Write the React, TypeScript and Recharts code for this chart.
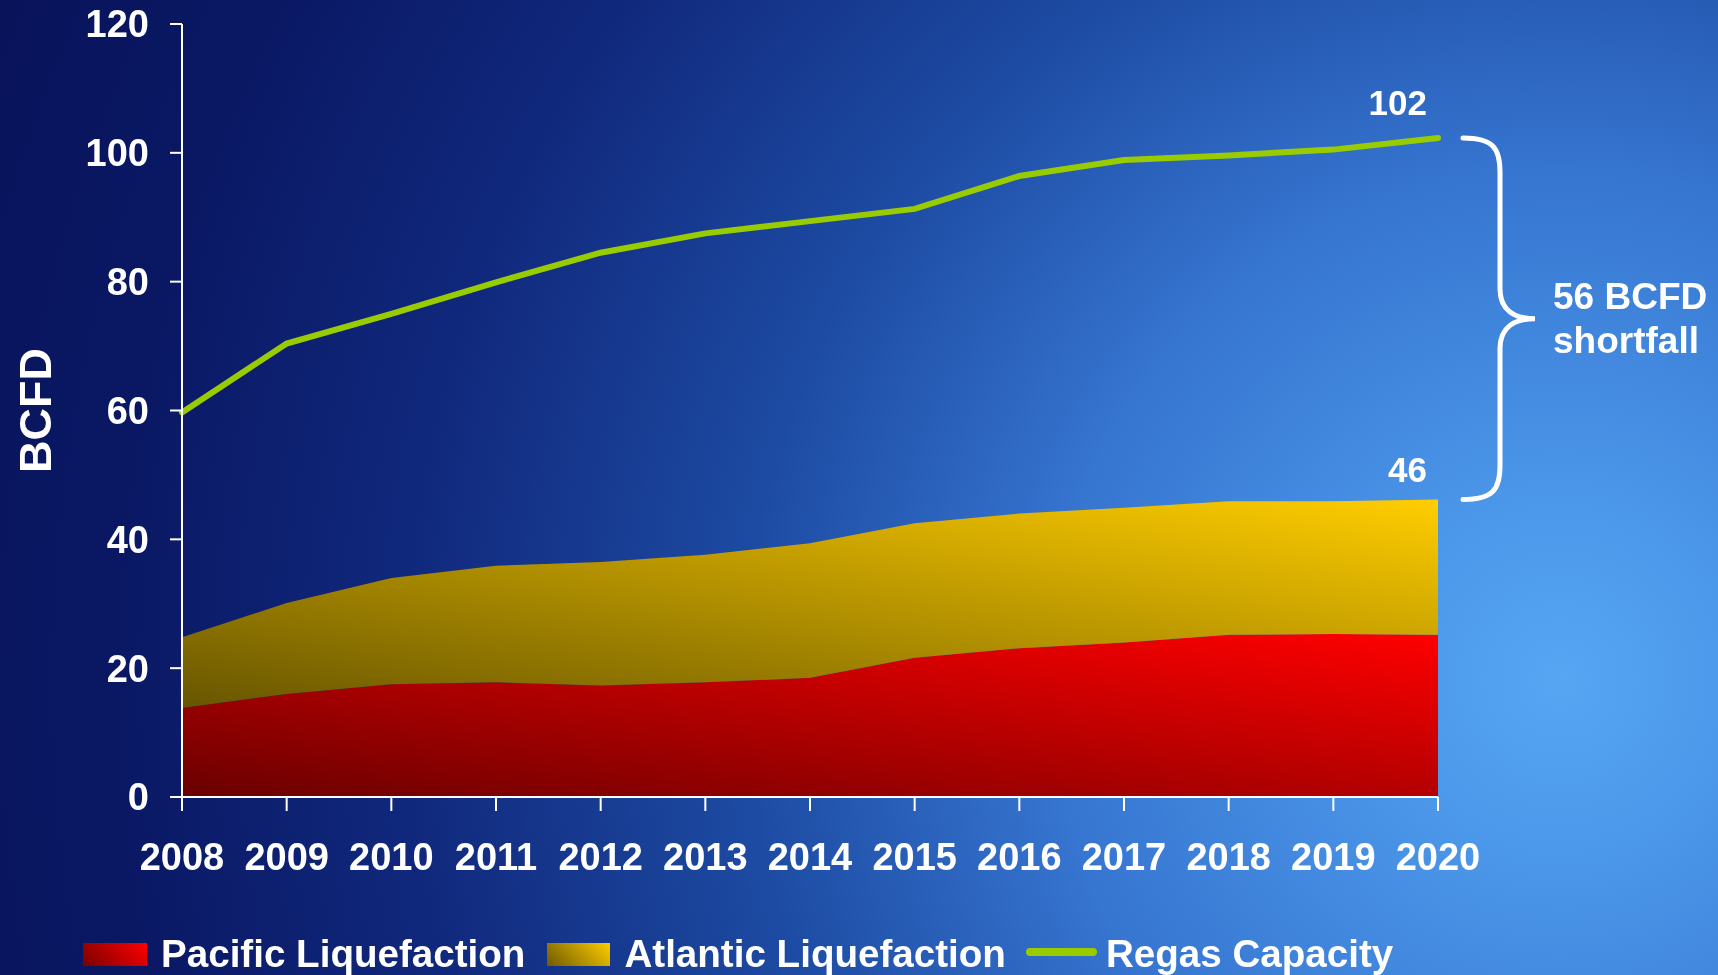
import React from 'react';
import { ComposedChart, Area, Line, XAxis, YAxis, ReferenceLine } from 'recharts';

const years = [2008, 2009, 2010, 2011, 2012, 2013, 2014, 2015, 2016, 2017, 2018, 2019, 2020];
const pacific = [13.8, 16.0, 17.5, 17.8, 17.3, 17.8, 18.5, 21.6, 23.1, 24.0, 25.2, 25.3, 25.2];
const atlantic = [11.0, 14.1, 16.5, 18.1, 19.2, 19.8, 20.9, 20.9, 20.9, 20.9, 20.7, 20.6, 21.0];
const regas = [59.7, 70.4, 75.0, 79.9, 84.5, 87.5, 89.4, 91.3, 96.4, 98.9, 99.6, 100.5, 102.3];
const yTicks = [0, 20, 40, 60, 80, 100, 120];
const seriesNames = ['Pacific Liquefaction', 'Atlantic Liquefaction', 'Regas Capacity'];
const shortfallLines = ['56 BCFD', 'shortfall'];
const yAxisTitle = 'BCFD';

const data = years.map((year, i) => ({ year, pacific: pacific[i], atlantic: atlantic[i], regas: regas[i] }));
const last = years.length - 1;
const lastTotal = pacific[last] + atlantic[last];

const FONT = '"Liberation Sans", Arial, Helvetica, sans-serif';

const regasLabel = (props: any) => {
  const { x, y, index } = props;
  if (index !== last) return null;
  return (
    <text x={x - 11} y={y - 23} textAnchor="end" fill="#fff" fontSize={35} fontWeight={700} fontFamily={FONT}>
      {Math.round(regas[last])}
    </text>
  );
};

const totalLabel = (props: any) => {
  const { x, y, index } = props;
  if (index !== last) return null;
  return (
    <text x={x - 11} y={y - 17} textAnchor="end" fill="#fff" fontSize={35} fontWeight={700} fontFamily={FONT}>
      {Math.round(lastTotal)}
    </text>
  );
};

const Brace = (props: any) => {
  const { x1, y1, x2, y2 } = props;
  const yt = Math.min(y1, y2);
  const yb = Math.max(y1, y2);
  const x0 = Math.max(x1, x2) + 25;
  const xv = x0 + 37;
  const xm = x0 + 72;
  const ym = (yt + yb) / 2;
  const d = [
    `M ${x0} ${yt}`,
    `C ${x0 + 30} ${yt} ${xv} ${yt + 10} ${xv} ${yt + 34}`,
    `L ${xv} ${ym - 30}`,
    `C ${xv} ${ym - 8} ${xv + 15} ${ym} ${xm} ${ym}`,
    `C ${xv + 15} ${ym} ${xv} ${ym + 8} ${xv} ${ym + 30}`,
    `L ${xv} ${yb - 34}`,
    `C ${xv} ${yb - 10} ${x0 + 30} ${yb} ${x0} ${yb}`,
  ].join(' ');
  return (
    <g>
      <path d={d} fill="none" stroke="#fff" strokeWidth={5} strokeLinecap="round" />
      <text x={xm + 18} y={ym - 10} fill="#fff" fontSize={37} fontWeight={700} fontFamily={FONT}>
        {shortfallLines[0]}
      </text>
      <text x={xm + 18} y={ym + 34} fill="#fff" fontSize={37} fontWeight={700} fontFamily={FONT}>
        {shortfallLines[1]}
      </text>
    </g>
  );
};

const YTitle = (props: any) => {
  const vb = props.viewBox || { x: 0, y: 0, height: 0 };
  const cx = vb.x + 51;
  const cy = vb.y + vb.height / 2;
  return (
    <text
      x={cx}
      y={cy}
      transform={`rotate(-90 ${cx} ${cy})`}
      textAnchor="middle"
      fill="#fff"
      fontSize={45}
      fontWeight={700}
      fontFamily={FONT}
    >
      {yAxisTitle}
    </text>
  );
};

const tickStyle = { fill: '#fff', fontSize: 38, fontWeight: 700, fontFamily: FONT };

export default function App() {
  return (
    <div
      style={{
        position: 'fixed',
        left: 0,
        top: 0,
        width: 1718,
        height: 975,
        overflow: 'hidden',
        fontFamily: FONT,
        background:
          'radial-gradient(circle farthest-corner at 1560px 680px, #56a6f4 0%, #4a95e8 12%, #3675d0 30%, #1d4ba3 48%, #10287c 68%, #0a1864 85%, #08135a 100%)',
      }}
    >
      <div style={{ position: 'absolute', left: 0, top: 0 }}>
        <ComposedChart width={1718} height={975} data={data} margin={{ top: 24, right: 280, bottom: 118, left: 0 }}>
          <defs>
            <linearGradient id="gPac" x1="0" y1="1" x2="1" y2="0">
              <stop offset="0%" stopColor="#6a0000" />
              <stop offset="100%" stopColor="#ff0000" />
            </linearGradient>
            <linearGradient id="gAtl" x1="0" y1="1" x2="1" y2="0">
              <stop offset="0%" stopColor="#685600" />
              <stop offset="100%" stopColor="#ffcd00" />
            </linearGradient>
          </defs>
          <XAxis
            dataKey="year"
            type="number"
            domain={[2008, 2020]}
            ticks={years}
            interval={0}
            height={60}
            tick={tickStyle}
            tickSize={14}
            tickMargin={32}
            axisLine={{ stroke: '#fff', strokeWidth: 2 }}
            tickLine={{ stroke: '#fff', strokeWidth: 2 }}
          />
          <YAxis
            domain={[0, 120]}
            ticks={yTicks}
            interval={0}
            width={182}
            tick={tickStyle}
            tickSize={12}
            tickMargin={21}
            axisLine={{ stroke: '#fff', strokeWidth: 2 }}
            tickLine={{ stroke: '#fff', strokeWidth: 2 }}
            label={{ content: (p: any) => <YTitle {...p} /> }}
          />
          <Area
            type="linear"
            dataKey="pacific"
            stackId="s"
            stroke="none"
            fill="url(#gPac)"
            fillOpacity={1}
            isAnimationActive={false}
            name={seriesNames[0]}
          />
          <Area
            type="linear"
            dataKey="atlantic"
            stackId="s"
            stroke="none"
            fill="url(#gAtl)"
            fillOpacity={1}
            isAnimationActive={false}
            name={seriesNames[1]}
            label={totalLabel}
          />
          <Line
            type="linear"
            dataKey="regas"
            stroke="#99cc00"
            strokeWidth={6}
            strokeLinecap="round"
            dot={false}
            activeDot={false}
            isAnimationActive={false}
            name={seriesNames[2]}
            label={regasLabel}
          />
          <ReferenceLine
            segment={[
              { x: years[last], y: lastTotal },
              { x: years[last], y: regas[last] },
            ]}
            ifOverflow="visible"
            shape={(p: any) => <Brace {...p} />}
          />
        </ComposedChart>
      </div>
      <div
        style={{
          position: 'absolute',
          left: 83,
          top: 935,
          height: 38,
          display: 'flex',
          alignItems: 'center',
          color: '#fff',
          fontSize: 38.6,
          fontWeight: 700,
          lineHeight: '38px',
          whiteSpace: 'nowrap',
        }}
      >
        <div style={{ width: 64, height: 23, background: 'linear-gradient(45deg, #7a0000, #ff0000)' }} />
        <span style={{ marginLeft: 14 }}>{seriesNames[0]}</span>
        <div style={{ marginLeft: 22, width: 63, height: 23, background: 'linear-gradient(45deg, #6e5a00, #ffcd00)' }} />
        <span style={{ marginLeft: 14 }}>{seriesNames[1]}</span>
        <div style={{ marginLeft: 20, width: 71, height: 8, borderRadius: 4, background: '#99cc00', marginTop: -4 }} />
        <span style={{ marginLeft: 9 }}>{seriesNames[2]}</span>
      </div>
    </div>
  );
}
